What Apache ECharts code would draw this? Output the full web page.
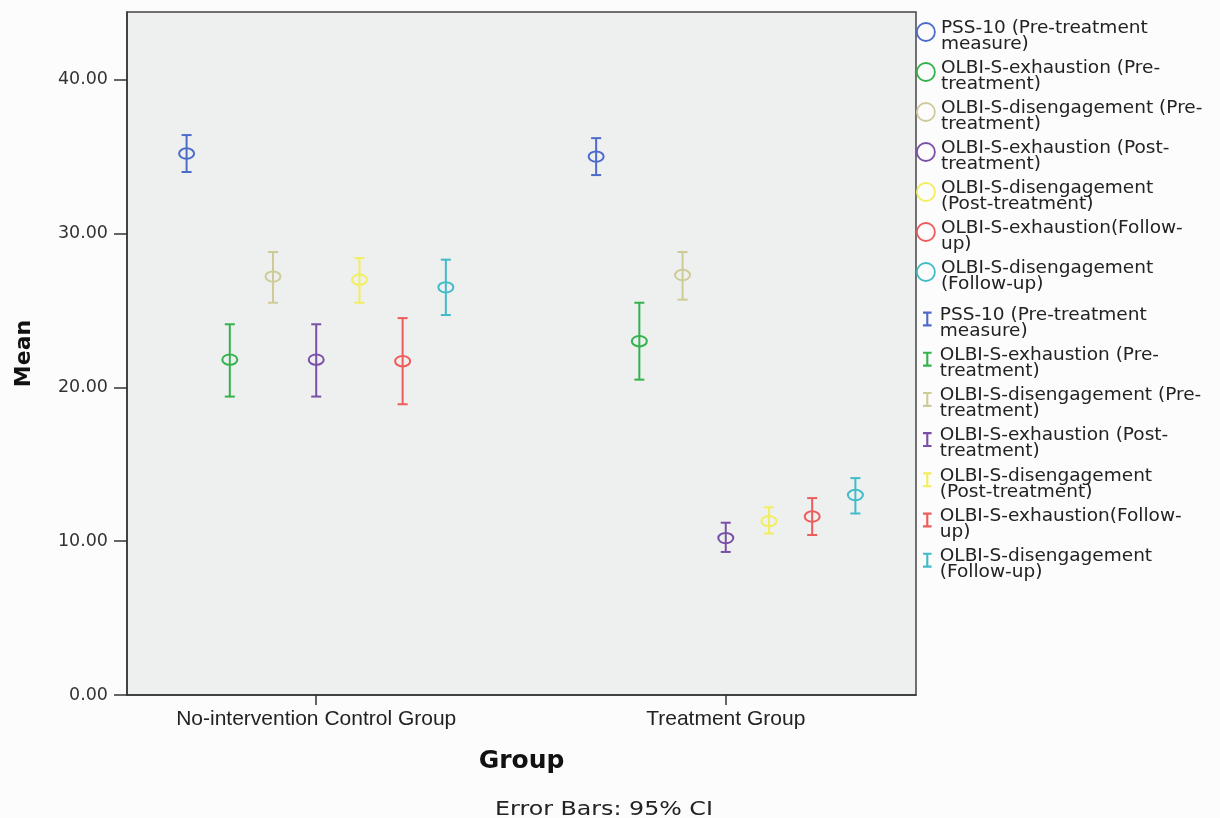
<!DOCTYPE html>
<html>
<head>
<meta charset="utf-8">
<script src="https://cdn.jsdelivr.net/npm/echarts@6/dist/echarts.min.js"></script>
<style>
html,body{margin:0;padding:0;background:#fcfcfd;}
#c{width:1220px;height:818px;}
</style>
</head>
<body>
<div id="c"></div>
<script>
// ---- data ----
const categories = ['No-intervention Control Group', 'Treatment Group'];
const measures = [
  'PSS-10 (Pre-treatment measure)',
  'OLBI-S-exhaustion (Pre-treatment)',
  'OLBI-S-disengagement (Pre-treatment)',
  'OLBI-S-exhaustion (Post-treatment)',
  'OLBI-S-disengagement (Post-treatment)',
  'OLBI-S-exhaustion(Follow-up)',
  'OLBI-S-disengagement (Follow-up)'
];
const legendLabels = [
  ['PSS-10 (Pre-treatment', 'measure)'],
  ['OLBI-S-exhaustion (Pre-', 'treatment)'],
  ['OLBI-S-disengagement (Pre-', 'treatment)'],
  ['OLBI-S-exhaustion (Post-', 'treatment)'],
  ['OLBI-S-disengagement', '(Post-treatment)'],
  ['OLBI-S-exhaustion(Follow-', 'up)'],
  ['OLBI-S-disengagement', '(Follow-up)']
];
// [control, treatment]
const meanValues = [
  [35.2, 35.0],
  [21.8, 23.0],
  [27.2, 27.3],
  [21.8, 10.2],
  [27.0, 11.3],
  [21.7, 11.6],
  [26.5, 13.0]
];
const lowerCI = [
  [34.0, 33.8],
  [19.4, 20.5],
  [25.5, 25.7],
  [19.4, 9.3],
  [25.5, 10.5],
  [18.9, 10.4],
  [24.7, 11.8]
];
const upperCI = [
  [36.4, 36.2],
  [24.1, 25.5],
  [28.8, 28.8],
  [24.1, 11.2],
  [28.4, 12.2],
  [24.5, 12.8],
  [28.3, 14.1]
];
const yTicks = [0, 10, 20, 30, 40];
const colors = ['#4d6bc9', '#34b24c', '#cfcb98', '#7a4fa8', '#f2ee5e', '#ee5b5b', '#40bcc8'];

// ---- chart ----
const STEP = 0.1055;      // dodge between measures within a group (axis units)
const SUFFIX = '\u200b';  // distinguishes error-bar series names from marker series names

const series = [];
measures.forEach((m, i) => {
  series.push({
    type: 'custom',
    name: m,
    itemStyle: { color: colors[i] },
    z: 3,
    data: categories.map((c, g) => [g + 1 + (i - 3) * STEP, meanValues[i][g]]),
    renderItem: (params, api) => {
      const p = api.coord([api.value(0), api.value(1)]);
      return {
        type: 'ellipse',
        shape: { cx: p[0], cy: p[1], rx: 7.5, ry: 5.2 },
        style: { fill: 'none', stroke: colors[i], lineWidth: 2 }
      };
    }
  });
});
measures.forEach((m, i) => {
  series.push({
    type: 'custom',
    name: m + SUFFIX,
    itemStyle: { color: colors[i] },
    z: 2,
    data: categories.map((c, g) => [g + 1 + (i - 3) * STEP, lowerCI[i][g], upperCI[i][g]]),
    renderItem: (params, api) => {
      const lo = api.coord([api.value(0), api.value(1)]);
      const hi = api.coord([api.value(0), api.value(2)]);
      const st = { stroke: colors[i], lineWidth: 2 };
      const cw = 5;
      return {
        type: 'group',
        children: [
          { type: 'line', shape: { x1: lo[0], y1: lo[1], x2: hi[0], y2: hi[1] }, style: st },
          { type: 'line', shape: { x1: lo[0] - cw, y1: lo[1], x2: lo[0] + cw, y2: lo[1] }, style: st },
          { type: 'line', shape: { x1: hi[0] - cw, y1: hi[1], x2: hi[0] + cw, y2: hi[1] }, style: st }
        ]
      };
    }
  });
});

const legendText = {
  fontFamily: 'DejaVu Sans', fontSize: 18.5, lineHeight: 16, color: '#222',
  rich: {
    s: { fontSize: 8, lineHeight: 8 },
    t: { fontFamily: 'DejaVu Sans', fontSize: 18.5, lineHeight: 16, color: '#222' }
  }
};
const labelOf = n => {
  const lines = legendLabels[measures.indexOf(n.replace(SUFFIX, ''))];
  return '{s| }\n' + lines.map(l => '{t|' + l + '}').join('\n');
};

const option = {
  backgroundColor: '#fcfcfd',
  animation: false,
  grid: {
    left: 127, right: 304, top: 12, bottom: 123,
    show: true, backgroundColor: '#eef0f0', borderColor: '#444', borderWidth: 1.5
  },
  xAxis: {
    type: 'value', min: 0.538, max: 2.4645,
    splitLine: { show: false },
    axisLine: { show: true, onZero: false, lineStyle: { color: '#333', width: 1.5 } },
    axisTick: { show: true, customValues: [1, 2], length: 10, lineStyle: { color: '#333', width: 1.5 } },
    axisLabel: {
      customValues: [1, 2],
      formatter: v => categories[Math.round(v) - 1],
      margin: 14, fontFamily: 'Liberation Sans', fontSize: 21, color: '#222'
    },
    name: 'Group', nameLocation: 'middle', nameGap: 54,
    nameTextStyle: { fontFamily: 'DejaVu Sans', fontWeight: 'bold', fontSize: 25, color: '#111' }
  },
  yAxis: {
    type: 'value', min: 0, max: 44.4,
    splitLine: { show: false },
    axisLine: { show: true, lineStyle: { color: '#333', width: 1.5 } },
    axisTick: { show: true, customValues: yTicks, length: 13, lineStyle: { color: '#333', width: 1.5 } },
    axisLabel: {
      customValues: yTicks,
      formatter: v => v.toFixed(2),
      margin: 19, fontFamily: 'DejaVu Sans', fontSize: 17.5, color: '#333'
    },
    name: 'Mean', nameLocation: 'middle', nameGap: 92,
    nameTextStyle: { fontFamily: 'DejaVu Sans', fontWeight: 'bold', fontSize: 22, color: '#111' }
  },
  legend: [
    {
      orient: 'vertical', left: 916, top: 12, itemGap: -1.5, itemWidth: 20, itemHeight: 18,
      selectedMode: false, padding: 0,
      data: measures.map((m, i) => ({
        name: m, icon: 'circle',
        itemStyle: { color: 'rgba(0,0,0,0)', borderColor: colors[i], borderWidth: 1.8 }
      })),
      formatter: labelOf,
      textStyle: legendText
    },
    {
      orient: 'vertical', left: 923, top: 299, itemGap: -1.3, itemWidth: 15, itemHeight: 15,
      selectedMode: false, padding: 0,
      data: measures.map((m, i) => ({
        name: m + SUFFIX,
        icon: 'path://M0,0H8V2H5V12H8V14H0V12H3V2H0Z',
        itemStyle: { color: colors[i] }
      })),
      formatter: labelOf,
      textStyle: legendText
    }
  ],
  graphic: [
    {
      type: 'text', x: 604, y: 810, scaleX: 1.25, originX: 0,
      style: {
        text: 'Error Bars: 95% CI', align: 'center', verticalAlign: 'middle',
        fontFamily: 'DejaVu Sans', fontSize: 19, fill: '#222'
      }
    }
  ],
  series: series
};

const chart = echarts.init(document.getElementById('c'), null, { renderer: 'canvas' });
chart.setOption(option);
</script>
</body>
</html>
